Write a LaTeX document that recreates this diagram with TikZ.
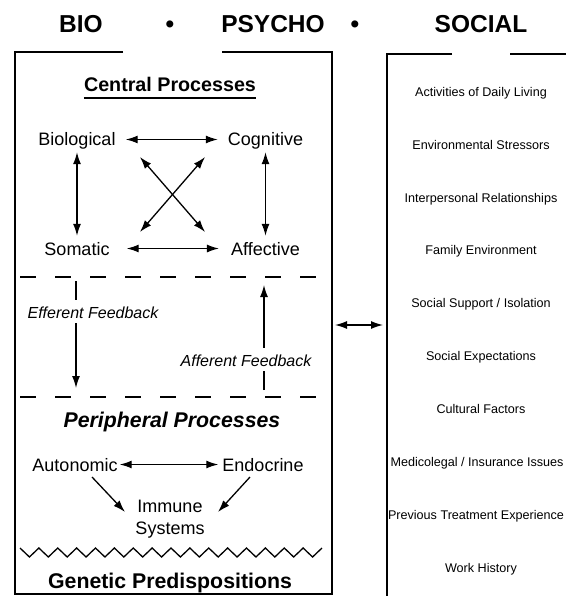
\documentclass[tikz,border=0pt]{standalone}
\usepackage{fontspec}
\setmainfont{Liberation Sans}
\usetikzlibrary{arrows.meta}

\begin{document}
\begin{tikzpicture}[x=1pt,y=-1pt,
        >={Latex[length=12pt,width=8pt]},
        heading/.style={font=\fontsize{24.5}{29}\selectfont\bfseries, anchor=base, inner sep=0pt},
        areahead/.style={font=\fontsize{21.3}{25}\selectfont\bfseries, anchor=base, inner sep=0pt},
        factor/.style={font=\fontsize{18}{22}\selectfont, anchor=base, inner sep=0pt, text height=13pt, text depth=0pt},
        feedback/.style={font=\fontsize{16}{19}\selectfont\itshape, anchor=base, fill=white, inner xsep=1pt, inner ysep=5pt, text height=13pt, text depth=0pt},
        social/.style={font=\fontsize{12.6}{15}\selectfont, anchor=base, inner sep=0pt},
        boxline/.style={line width=1.5pt},
        link/.style={<->, line width=1.3pt},
        flow/.style={->, line width=1.3pt},
        divider/.style={line width=2pt, dash pattern=on 16pt off 19pt}]
        \useasboundingbox (0,0) rectangle (565,596);
        % headings
        \node[heading] (bio) at (81,33) {BIO};
        \node[heading] (dotA) at (170,33) {•};
        \node[heading] (psycho) at (273,33) {PSYCHO};
        \node[heading] (dotB) at (355,33) {•};
        \node[heading] (social) at (481,33) {SOCIAL};
        % the two frames
        \draw[boxline] (123,52) -- (15,52) -- (15,594) -- (332,594) -- (332,52) -- (222,52);
        \draw[boxline] (452,54) -- (387,54) -- (387,596);
        \draw[boxline] (510,54) -- (566,54);
        % central processes
        \node[areahead, font=\fontsize{19.7}{24}\selectfont\bfseries] (central) at (170,92) {Central Processes};
        \draw[line width=1.5pt] ([yshift=-6pt]central.base west) -- ([yshift=-6pt]central.base east);
        \node[factor] (biol) at (77,146) {Biological};
        \node[factor] (cogn) at (265.5,146) {Cognitive};
        \node[factor] (soma) at (77,255) {Somatic};
        \node[factor] (affe) at (265.5,255) {Affective};
        \draw[link, shorten <=10pt, shorten >=10pt] (biol) -- (cogn);
        \draw[link, shorten <=17pt, shorten >=12pt] (soma) -- (affe);
        \draw[link, shorten <=6pt, shorten >=6pt] (biol) -- (soma);
        \draw[link, shorten <=6pt, shorten >=6pt] (cogn) -- (affe);
        \draw[link] ([shift={(63pt,-11pt)}]biol.base) -- ([shift={(-60.5pt,23pt)}]affe.base);
        \draw[link] ([shift={(-60.5pt,-11pt)}]cogn.base) -- ([shift={(63pt,23pt)}]soma.base);
        % feedback band
        \draw[divider] (20,277) -- (323,277);
        \draw[divider] (20,397) -- (323,397);
        \coordinate (efftop) at (76,277);
        \coordinate (effbot) at (76,397);
        \coordinate (afftop) at (264,277);
        \coordinate (affbot) at (264,397);
        \draw[flow, shorten <=4pt, shorten >=9pt] (efftop) -- (effbot);
        \draw[flow, shorten <=7pt, shorten >=8pt] (affbot) -- (afftop);
        \node[feedback] (eff) at (93,318) {Efferent Feedback};
        \node[feedback] (aff) at (246,366) {Afferent Feedback};
        % peripheral processes
        \node[areahead, font=\fontsize{21.3}{25}\selectfont\bfseries\itshape] (periph) at (172,427) {Peripheral Processes};
        \node[factor] (auto) at (75,471) {Autonomic};
        \node[factor] (endo) at (263,471) {Endocrine};
        \node[font=\fontsize{18}{22}\selectfont, align=center, inner sep=0pt] (immu) at (170,519) {Immune\\Systems};
        \draw[link, shorten <=2pt, shorten >=4pt] (auto) -- (endo);
        \draw[flow] ([shift={(17pt,-6pt)}]auto.base) -- ([shift={(-45pt,7pt)}]immu.center);
        \draw[flow] ([shift={(-13pt,-6pt)}]endo.base) -- ([shift={(48pt,7pt)}]immu.center);
        % genetic base
        \draw[line width=1.3pt] (20,548) \foreach \i in {1,...,16} { -- ({20+18.875*\i-9.4375},557) -- ({20+18.875*\i},548) };
        \node[areahead] (genetic) at (170,588) {Genetic Predispositions};
        % link to the social frame
        \coordinate (leftedge) at (332,325);
        \coordinate (rightedge) at (387,325);
        \draw[link, shorten <=3pt, shorten >=4pt] (leftedge) -- (rightedge);
        % social factors
        \foreach \txt [count=\k from 0] in {Activities of Daily Living, Environmental Stressors, Interpersonal Relationships, Family Environment, Social Support / Isolation, Social Expectations, Cultural Factors}
            \node[social] (soc\k) at (481,{96.5+52.8*\k}) {\txt};
        \node[social] (soc7) at (477,466) {Medicolegal / Insurance Issues};
        \node[social] (soc8) at (476,519) {Previous Treatment Experience};
        \node[social] (soc9) at (481,572) {Work History};
\end{tikzpicture}
\end{document}
